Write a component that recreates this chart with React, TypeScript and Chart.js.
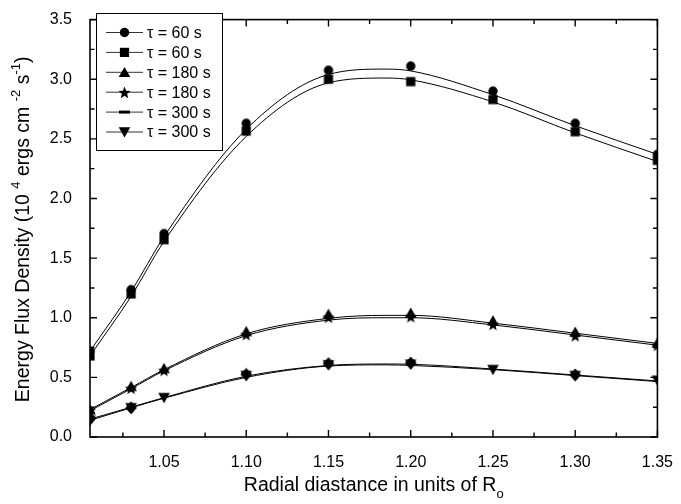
import React, { useEffect, useRef } from 'react';
import { Chart, registerables } from 'chart.js';

Chart.register(...registerables);

const FONT = '"Liberation Sans", Arial, Helvetica, sans-serif';

// ---- data ----
const markerX = [1.005, 1.03, 1.05, 1.10, 1.15, 1.20, 1.25, 1.30, 1.35];
const circle60 = [0.72, 1.235, 1.705, 2.63, 3.075, 3.11, 2.90, 2.63, 2.37];
const square60 = [0.68, 1.20, 1.655, 2.565, 3.00, 2.98, 2.83, 2.56, 2.32];
const triangle180 = [0.23, 0.425, 0.575, 0.885, 1.03, 1.04, 0.975, 0.88, 0.79];
const star180 = [0.225, 0.41, 0.56, 0.86, 1.005, 1.01, 0.945, 0.85, 0.77];
const diamond300 = [0.15, 0.245, null, 0.525, 0.615, 0.62, null, 0.52, null];
const triDown300 = [0.14, 0.245, 0.33, 0.515, 0.605, 0.61, 0.565, 0.515, 0.475];

const curveX = [1.005, 1.03, 1.05, 1.10, 1.15, 1.185, 1.20, 1.25, 1.30, 1.35];
const fitCircle60 = [0.72, 1.22, 1.68, 2.58, 3.04, 3.085, 3.07, 2.87, 2.61, 2.37];
const fitSquare60 = [0.68, 1.18, 1.64, 2.52, 2.97, 3.01, 2.995, 2.81, 2.55, 2.31];
const fitTriangle180 = [0.23, 0.415, 0.565, 0.865, 0.995, 1.02, 1.02, 0.955, 0.87, 0.785];
const fitStar180 = [0.22, 0.405, 0.555, 0.85, 0.98, 1.0, 1.0, 0.94, 0.855, 0.77];
const fitDiamond300 = [0.15, 0.25, 0.33, 0.51, 0.60, 0.612, 0.61, 0.57, 0.52, 0.47];
const fitTriDown300 = [0.14, 0.245, 0.325, 0.50, 0.595, 0.605, 0.60, 0.565, 0.515, 0.465];

const xTicks = [1.05, 1.10, 1.15, 1.20, 1.25, 1.30, 1.35];
const xMinorTicks = [1.025, 1.075, 1.125, 1.175, 1.225, 1.275, 1.325];
const yTicks = [0, 0.5, 1.0, 1.5, 2.0, 2.5, 3.0, 3.5];
const yMinorTicks = [0.25, 0.75, 1.25, 1.75, 2.25, 2.75, 3.25];

const legendLabels = ['τ = 60 s', 'τ = 60 s', 'τ = 180 s', 'τ = 180 s', 'τ = 300 s', 'τ = 300 s'];
const markerKinds = ['circle', 'square', 'triangle', 'star', 'diamond', 'triangleDown'];
const legendKinds = ['circle', 'square', 'triangle', 'star', 'dash', 'triangleDown'];
const markerSeries = [circle60, square60, triangle180, star180, diamond300, triDown300];
const curveSeries = [fitCircle60, fitSquare60, fitTriangle180, fitStar180, fitDiamond300, fitTriDown300];

function drawMarker(ctx: CanvasRenderingContext2D, kind: string, x: number, y: number) {
  ctx.beginPath();
  switch (kind) {
    case 'circle':
      ctx.arc(x, y, 4.7, 0, Math.PI * 2);
      break;
    case 'square':
      ctx.rect(x - 4.6, y - 4.6, 9.2, 9.2);
      break;
    case 'triangle':
      ctx.moveTo(x, y - 5.4);
      ctx.lineTo(x + 5.8, y + 4.7);
      ctx.lineTo(x - 5.8, y + 4.7);
      ctx.closePath();
      break;
    case 'triangleDown':
      ctx.moveTo(x, y + 5.4);
      ctx.lineTo(x + 5.8, y - 4.7);
      ctx.lineTo(x - 5.8, y - 4.7);
      ctx.closePath();
      break;
    case 'diamond':
      ctx.moveTo(x, y - 6.4);
      ctx.lineTo(x + 5.8, y);
      ctx.lineTo(x, y + 6.4);
      ctx.lineTo(x - 5.8, y);
      ctx.closePath();
      break;
    case 'star': {
      const R = 6.4, r = 2.7;
      for (let i = 0; i < 10; i++) {
        const ang = -Math.PI / 2 + (i * Math.PI) / 5;
        const rr = i % 2 === 0 ? R : r;
        const px = x + rr * Math.cos(ang);
        const py = y + rr * Math.sin(ang) + 0.8;
        if (i === 0) ctx.moveTo(px, py); else ctx.lineTo(px, py);
      }
      ctx.closePath();
      break;
    }
    case 'dash':
      ctx.rect(x - 5.5, y - 1.5, 11, 3);
      break;
  }
  ctx.fillStyle = '#000';
  ctx.fill();
}

function makeMarkerImage(kind: string): HTMLCanvasElement {
  const c = document.createElement('canvas');
  c.width = 16;
  c.height = 16;
  const ctx = c.getContext('2d')!;
  drawMarker(ctx, kind, 8, 8);
  return c;
}

function drawRich(ctx: CanvasRenderingContext2D, parts: { t: string; k: number }[], cx: number, baseSize: number) {
  const small = Math.round(baseSize * 0.65);
  let w = 0;
  const widths = parts.map((p) => {
    ctx.font = `${p.k === 0 ? baseSize : small}px ${FONT}`;
    const m = ctx.measureText(p.t).width;
    w += m;
    return m;
  });
  let x = cx - w / 2;
  parts.forEach((p, i) => {
    ctx.font = `${p.k === 0 ? baseSize : small}px ${FONT}`;
    const dy = p.k === 1 ? -baseSize * 0.45 : p.k === -1 ? baseSize * 0.35 : 0;
    ctx.fillText(p.t, x, dy);
    x += widths[i];
  });
}

const framePlugin = {
  id: 'frameTicks',
  afterDatasetsDraw(chart: any) {
    const { ctx, chartArea } = chart;
    const { left, right, top, bottom } = chartArea;
    const xs = chart.scales.x;
    const ys = chart.scales.y;
    ctx.save();
    ctx.strokeStyle = '#000';
    ctx.lineWidth = 1.6;
    ctx.strokeRect(left, top, right - left, bottom - top);
    ctx.lineWidth = 1.4;
    const tick = (vals: number[], len: number, horizontal: boolean) => {
      vals.forEach((v) => {
        ctx.beginPath();
        if (horizontal) {
          const px = xs.getPixelForValue(v);
          ctx.moveTo(px, bottom); ctx.lineTo(px, bottom - len);
          ctx.moveTo(px, top); ctx.lineTo(px, top + len);
        } else {
          const py = ys.getPixelForValue(v);
          ctx.moveTo(left, py); ctx.lineTo(left + len, py);
          ctx.moveTo(right, py); ctx.lineTo(right - len, py);
        }
        ctx.stroke();
      });
    };
    tick(xTicks, 7, true);
    tick(xMinorTicks, 4.5, true);
    tick(yTicks, 7, false);
    tick(yMinorTicks, 4.5, false);
    ctx.restore();
  },
  afterDraw(chart: any) {
    const { ctx, chartArea } = chart;
    const { left, right, top, bottom } = chartArea;
    ctx.save();
    // legend
    const bx = 96.5, by = 13.5, bw = 126, bh = 137;
    ctx.fillStyle = '#fff';
    ctx.fillRect(bx, by, bw, bh);
    ctx.strokeStyle = '#000';
    ctx.lineWidth = 1;
    ctx.strokeRect(bx, by, bw, bh);
    ctx.textBaseline = 'middle';
    ctx.textAlign = 'left';
    legendLabels.forEach((lab, i) => {
      const yy = 32.5 + i * 19.9;
      ctx.strokeStyle = '#333';
      ctx.lineWidth = 1;
      ctx.beginPath();
      ctx.moveTo(106, yy);
      ctx.lineTo(143, yy);
      ctx.stroke();
      drawMarker(ctx, legendKinds[i], 124.5, yy);
      ctx.fillStyle = '#000';
      ctx.font = `16px ${FONT}`;
      ctx.fillText(lab, 147, yy + 1);
    });
    // axis titles
    ctx.fillStyle = '#000';
    ctx.textBaseline = 'alphabetic';
    ctx.textAlign = 'left';
    ctx.save();
    ctx.translate((left + right) / 2, 491);
    drawRich(ctx, [
      { t: 'Radial diastance in units of R', k: 0 },
      { t: 'o', k: -1 },
    ], 0, 19.5);
    ctx.restore();
    ctx.save();
    ctx.translate(29, (top + bottom) / 2 + 1);
    ctx.rotate(-Math.PI / 2);
    drawRich(ctx, [
      { t: 'Energy Flux Density (10 ', k: 0 },
      { t: '4', k: 1 },
      { t: ' ergs cm ', k: 0 },
      { t: '-2', k: 1 },
      { t: ' s', k: 0 },
      { t: '-1', k: 1 },
      { t: ')', k: 0 },
    ], 0, 19.5);
    ctx.restore();
    ctx.restore();
  },
};

export default function App() {
  const ref = useRef<HTMLCanvasElement | null>(null);
  useEffect(() => {
    if (!ref.current) return;
    const datasets: any[] = [];
    curveSeries.forEach((ys, i) => {
      datasets.push({
        label: legendLabels[i] + ' fit',
        data: curveX.map((x, j) => ({ x, y: ys[j] })),
        borderColor: '#000',
        borderWidth: 1,
        pointRadius: 0,
        cubicInterpolationMode: 'monotone',
        showLine: true,
        fill: false,
      });
    });
    markerSeries.forEach((ys, i) => {
      const img = makeMarkerImage(markerKinds[i]);
      datasets.push({
        label: legendLabels[i],
        data: markerX.map((x, j) => (ys[j] == null ? null : { x, y: ys[j] })).filter((d) => d !== null),
        showLine: false,
        pointStyle: img,
        pointRadius: 6,
        borderColor: '#000',
        backgroundColor: '#000',
      });
    });
    const chart = new Chart(ref.current, {
      type: 'line',
      data: { datasets },
      plugins: [framePlugin],
      options: {
        animation: false,
        responsive: false,
        events: [],
        layout: { padding: { left: 0, right: 16, top: 10, bottom: 0 } },
        plugins: { legend: { display: false }, tooltip: { enabled: false } },
        scales: {
          x: {
            type: 'linear',
            min: 1.005,
            max: 1.35,
            grid: { display: false },
            border: { display: false },
            ticks: {
              color: '#000',
              font: { family: FONT, size: 16 },
              padding: 8,
              maxRotation: 0,
              autoSkip: false,
              callback: (v: any) => Number(v).toFixed(2),
            },
            afterBuildTicks: (s: any) => {
              s.ticks = xTicks.map((v) => ({ value: v }));
            },
            afterFit: (s: any) => {
              s.height = 67;
            },
          },
          y: {
            type: 'linear',
            min: 0,
            max: 3.5,
            grid: { display: false },
            border: { display: false },
            ticks: {
              color: '#000',
              font: { family: FONT, size: 16 },
              padding: 10,
              autoSkip: false,
              callback: (v: any) => Number(v).toFixed(1),
            },
            afterBuildTicks: (s: any) => {
              s.ticks = yTicks.map((v) => ({ value: v }));
            },
            afterFit: (s: any) => {
              s.width = 90;
            },
          },
        },
      } as any,
    });
    return () => chart.destroy();
  }, []);
  return (
    <div style={{ position: 'fixed', left: 0, top: 0, width: 681, height: 504, background: '#fff' }}>
      <canvas ref={ref} width={681} height={504} style={{ display: 'block' }} />
    </div>
  );
}
